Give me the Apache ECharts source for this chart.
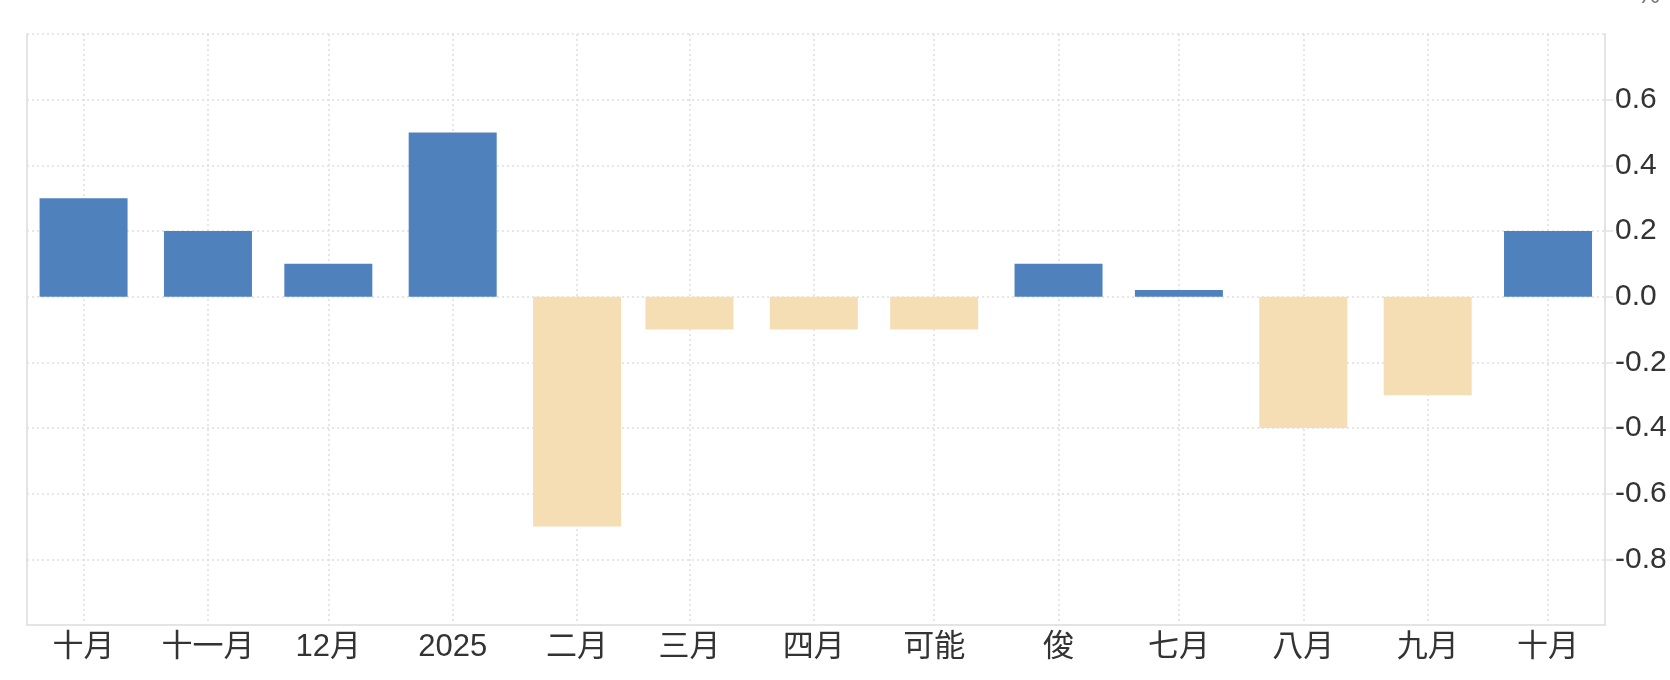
<!DOCTYPE html>
<html><head><meta charset="utf-8">
<script src="https://cdn.jsdelivr.net/npm/echarts@6/dist/echarts.min.js"></script>
<style>html,body{margin:0;padding:0;background:#fff}#c{width:1670px;height:680px}</style>
</head><body><div id="c"></div>
<script>
// ---- data ----
const dates = ['2024-10-01','2024-11-01','2024-12-01','2025-01-01','2025-02-01','2025-03-01','2025-04-01','2025-05-01','2025-06-01','2025-07-01','2025-08-01','2025-09-01','2025-10-01'];
const tickLabels = ['十月','十一月','12月','2025','二月','三月','四月','可能','俊','七月','八月','九月','十月'];
const values = [0.3, 0.2, 0.1, 0.5, -0.7, -0.1, -0.1, -0.1, 0.1, 0.02, -0.4, -0.3, 0.2];
const yMin = -1.0, yMax = 0.8, yStep = 0.2;
const unitName = '%';

// ---- helpers ----
const DAY = 86400000;
function toUTC(s){ const p = s.split('-').map(Number); return Date.UTC(p[0], p[1]-1, p[2]); }
const times = dates.map(toUTC);
const POS = '#4f81bd', NEG = '#f5deb3';
const FONT = '"Liberation Sans", "Noto Sans CJK JP", "Noto Sans CJK SC", sans-serif';
const gridDot = { color: '#dedede', type: [2, 3], width: 1.5 };
const axisCol = '#e4e4e4';

const W = 1670, GL = 27, GR = 65, BAR_W = 88;
const plotLen = W - GL - GR;
// wanted visible time range
const wantMin = times[0] - 14.1 * DAY;
const wantMax = times[times.length - 1] + 14.2 * DAY;
// ECharts widens a time axis carrying fixed-width bars; pre-shrink so the final range is the wanted one
const wantRange = wantMax - wantMin;
const shrink = (wantRange - wantRange * (1 - BAR_W / plotLen)) / 2;

const chart = echarts.init(document.getElementById('c'), null, { renderer: 'canvas' });
chart.setOption({
  useUTC: true,
  backgroundColor: '#fff',
  animation: false,
  grid: { left: GL, right: GR, top: 34, bottom: 55, outerBoundsMode: 'none', containLabel: false },
  xAxis: {
    type: 'time',
    min: wantMin + shrink,
    max: wantMax - shrink,
    splitNumber: 13,
    minInterval: 30 * DAY,
    maxInterval: 30 * DAY,
    axisLine: { onZero: false, lineStyle: { color: axisCol, width: 2 } },
    axisTick: { show: false },
    axisLabel: {
      interval: 0,
      color: '#333', fontSize: 31, fontFamily: FONT, margin: 7,
      hideOverlap: false,
      formatter: function (v) {
        for (let i = 0; i < times.length; i++) if (Math.abs(times[i] - v) < DAY / 2) return tickLabels[i];
        return '';
      }
    },
    splitLine: { show: true, lineStyle: gridDot }
  },
  yAxis: [{
    type: 'value', position: 'right',
    min: yMin, max: yMax, interval: yStep,
    name: unitName, nameLocation: 'end', nameGap: 25,
    nameTextStyle: { color: '#777', fontSize: 26, fontFamily: FONT, align: 'left', padding: [0, 0, 0, 32] },
    axisLine: { show: true, lineStyle: { color: axisCol, width: 2 } },
    axisTick: { show: true, length: 8, lineStyle: { color: axisCol, width: 1.5 } },
    axisLabel: {
      color: '#333', fontSize: 30, fontFamily: FONT, margin: 10,
      showMinLabel: false, showMaxLabel: false, padding: [0, 0, 8, 0],
      formatter: function (v) { return Math.abs(v) < 1e-9 ? '0.0' : v.toFixed(1); }
    },
    splitLine: { show: true, lineStyle: gridDot }
  }, {
    type: 'value', position: 'left',
    min: yMin, max: yMax, interval: yStep,
    axisLine: { show: true, lineStyle: { color: axisCol, width: 2 } },
    axisTick: { show: false }, axisLabel: { show: false }, splitLine: { show: false }
  }],
  series: [{
    type: 'bar',
    yAxisIndex: 0,
    barWidth: BAR_W,
    data: times.map((t, i) => ({ value: [t, values[i]], itemStyle: { color: values[i] >= 0 ? POS : NEG } }))
  }]
});
</script>
</body></html>
